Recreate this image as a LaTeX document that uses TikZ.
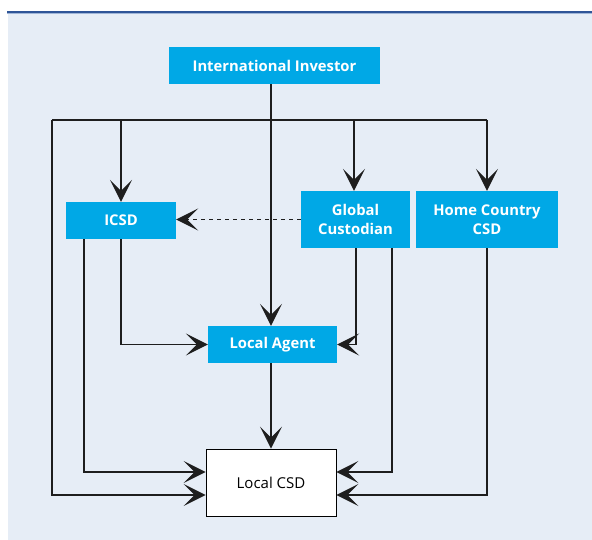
\documentclass[tikz,border=0pt]{standalone}
\usepackage{fontspec}
\setmainfont{Open Sans}
\usetikzlibrary{arrows.meta,calc}
\definecolor{bgblue}{RGB}{230,237,246}
\definecolor{boxcyan}{RGB}{0,168,230}
\definecolor{rule}{RGB}{47,85,151}
\definecolor{rulelight}{RGB}{160,182,216}
\definecolor{linec}{RGB}{30,30,30}
\tikzset{
  bluebox/.style={draw=none, fill=boxcyan, text=white, font=\fontsize{14.8}{19}\selectfont\bfseries, align=center, inner sep=0pt},
  whitebox/.style={draw=black, line width=0.9pt, fill=white, text=black, font=\fontsize{15}{19}\selectfont, inner sep=0pt},
  conn/.style={draw=linec, line width=1.2pt},
  arr/.style={conn, -{Stealth[length=22pt, width=22pt, inset=11pt]}},
}
\begin{document}
\begin{tikzpicture}[x=1pt, y=-1pt]
\useasboundingbox (0,0) rectangle (592,540);
\fill[bgblue] (8,13) rectangle (592,540);
\fill[rule] (7,10.8) rectangle (592,13);
\fill[rulelight] (7,13) rectangle (592,14);

\node[bluebox, minimum width=211pt, minimum height=37pt] (inv) at (274.5,65.5) {International Investor};
\node[bluebox, minimum width=110pt, minimum height=37pt] (icsd) at (121,220.5) {ICSD};
\node[bluebox, minimum width=109pt, minimum height=57pt] (gc) at (355.5,219.5) {Global\\Custodian};
\node[bluebox, minimum width=142pt, minimum height=57pt] (hc) at (487,219.5) {Home Country\\CSD};
\node[bluebox, minimum width=129pt, minimum height=37pt] (la) at (272.5,344.5) {Local Agent};
\node[whitebox, minimum width=130pt, minimum height=67pt] (lcsd) at (271,482.5) {Local CSD};

\coordinate (tx) at (271,0);
\coordinate (fl) at (52,120);
\coordinate (fr) at (487,120);
\coordinate (gx) at (354,120);
\coordinate (ix) at (84,0);
\coordinate (g1) at (356,0);
\coordinate (g2) at (392,0);

% frame line
\draw[conn] (fl) -- (fr);
\draw[arr] (fl) |- ([yshift=-12.5pt]lcsd.west);
\draw[arr] (inv.south -| tx) -- (la.north -| tx);
\draw[arr] (icsd.north |- fl) -- (icsd.north);
\draw[arr] (gx) -- (gc.north -| gx);
\draw[arr] (fr) -- (hc.north);
\draw[arr, dash pattern=on 4pt off 4pt, line width=1.6pt] (gc.west) -- (gc.west -| icsd.east);
\draw[arr] (icsd.south) |- (la.west);
\draw[arr] (icsd.south -| ix) |- ([yshift=10.5pt]lcsd.west);
\draw[arr] (gc.south -| g1) |- (la.east);
\draw[arr] (gc.south -| g2) |- ([yshift=10.5pt]lcsd.east);
\draw[arr] (hc.south) |- ([yshift=-12.5pt]lcsd.east);
\draw[arr] (la.south -| tx) -- (lcsd.north -| tx);
\end{tikzpicture}
\end{document}
